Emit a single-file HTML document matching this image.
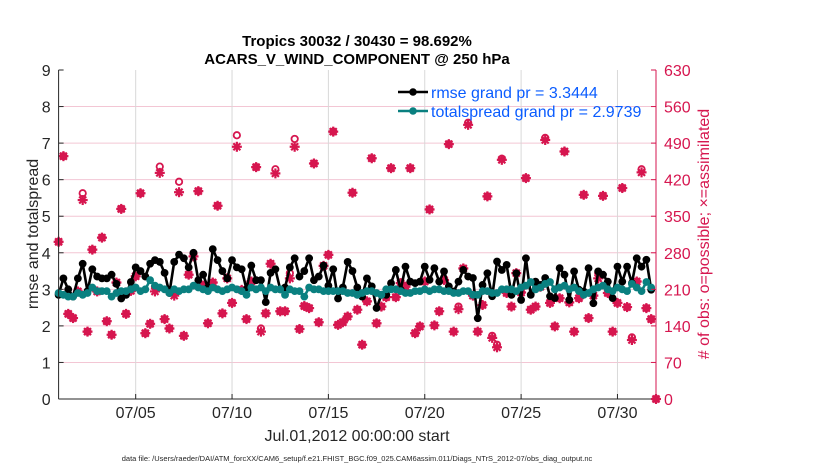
<!DOCTYPE html>
<html><head><meta charset="utf-8">
<style>
html,body{margin:0;padding:0;background:#fff;}
svg{display:block;font-family:"Liberation Sans",sans-serif;}
</style></head>
<body>
<svg id="chart" width="830" height="470" viewBox="0 0 830 470">
  <rect x="0" y="0" width="830" height="470" fill="#fff"/>
  <g id="grid"></g>
  <g id="marks"></g>
  <g id="axes"></g>
  <text x="357" y="46" text-anchor="middle" font-size="15" font-weight="bold">Tropics 30032 / 30430 = 98.692%</text>
  <text x="357" y="64" text-anchor="middle" font-size="15" font-weight="bold">ACARS_V_WIND_COMPONENT @ 250 hPa</text>
  <text x="357" y="441" text-anchor="middle" font-size="16" fill="#262626">Jul.01,2012 00:00:00 start</text>
  <text x="357" y="461" text-anchor="middle" font-size="7.5" fill="#262626">data file: /Users/raeder/DAI/ATM_forcXX/CAM6_setup/f.e21.FHIST_BGC.f09_025.CAM6assim.011/Diags_NTrS_2012-07/obs_diag_output.nc</text>
  <text transform="translate(38,234) rotate(-90)" text-anchor="middle" font-size="16" fill="#262626">rmse and totalspread</text>
  <text transform="translate(709,234) rotate(-90)" text-anchor="middle" font-size="16" fill="#d6164f"># of obs: o=possible; ×=assimilated</text>
  <g>
    <line x1="398" y1="92" x2="428" y2="92" stroke="#000" stroke-width="2.5"/>
    <circle cx="413" cy="92" r="3.8" fill="#000"/>
    <text x="431" y="98" font-size="16" fill="#0a5cff">rmse grand pr = 3.3444</text>
    <line x1="398" y1="111" x2="428" y2="111" stroke="#0a8080" stroke-width="2.5"/>
    <circle cx="413" cy="111" r="3.8" fill="#0a8080"/>
    <text x="431" y="117" font-size="16" fill="#0a5cff">totalspread grand pr = 2.9739</text>
  </g>
</svg>
<script>
const rmse=[2.85,3.3,3.0,2.8,3.3,3.7,2.95,3.55,3.35,3.3,3.3,3.4,3.15,2.75,2.85,3.2,3.6,3.5,3.35,3.7,3.8,3.75,3.45,2.9,3.75,3.95,3.85,3.6,4.0,3.25,3.4,3.05,4.1,3.8,3.5,3.3,3.8,3.6,3.55,3.0,3.65,3.25,3.25,2.65,3.45,3.55,3.0,3.05,3.6,3.85,3.35,3.5,3.85,3.25,3.35,3.65,3.1,3.55,2.75,3.05,3.75,3.5,3.05,2.8,3.3,
3.08,2.49,2.85,2.85,3.17,3.53,2.99,3.62,3.21,3.17,3.21,3.62,3.26,3.58,3.21,3.49,3.08,2.94,3.21,3.53,3.35,3.31,2.21,3.12,3.44,2.81,3.76,3.53,3.67,2.85,3.44,2.71,3.85,2.85,3.21,3.12,3.31,2.81,2.76,3.58,3.40,2.71,3.49,2.99,2.94,3.58,2.62,3.49,3.40,3.21,2.76,3.62,3.21,3.62,3.17,3.85,3.62,3.81,2.99];
const spread=[2.9,2.85,2.8,2.8,2.9,2.85,2.9,3.05,2.95,2.95,2.95,2.8,2.9,2.95,2.95,3.0,3.05,2.95,3.0,3.25,3.1,3.05,3.0,2.9,3.0,2.95,3.0,3.0,3.1,3.05,3.0,2.95,3.05,3.0,2.95,3.0,3.05,3.0,2.95,2.85,3.05,3.0,3.05,2.95,3.05,3.0,3.0,2.85,3.0,2.95,2.95,2.8,3.05,3.0,3.0,2.95,2.95,2.95,2.95,2.95,2.9,2.9,2.85,2.9,2.95,
2.95,2.9,2.85,3.0,3.0,3.0,2.95,2.9,2.9,2.95,2.95,3.0,2.95,3.0,3.0,2.95,2.95,2.9,2.9,2.95,2.95,2.85,2.85,2.95,2.95,2.9,2.9,3.0,3.0,3.0,2.95,3.05,3.1,3.2,3.0,3.05,3.15,3.2,3.0,3.05,3.1,3.0,3.05,2.95,2.85,2.9,3.0,3.05,3.1,3.0,2.95,3.05,3.0,2.95,3.15,3.05,2.95,3.2,3.05];
const assimilated=[301,465,163,155,206,381,129,286,206,309,149,123,223,364,163,207,235,394,126,144,206,433,153,135,198,396,121,238,273,398,217,145,223,370,164,231,184,483,209,153,225,444,129,164,259,432,168,168,231,483,134,178,174,451,147,255,276,512,142,147,158,395,171,104,187,
461,145,177,195,442,195,222,215,442,126,139,225,363,141,168,228,488,129,172,250,525,198,129,180,388,117,99,458,203,177,241,204,423,171,177,215,496,184,139,193,474,185,129,193,391,155,198,231,389,203,129,184,404,176,113,225,434,174,153,0];
const possible=[301,465,163,155,206,394,129,286,206,309,149,123,223,364,163,207,235,394,126,144,215,445,153,135,205,416,121,238,278,398,217,145,223,370,164,231,184,505,209,153,225,444,135,164,259,440,168,168,241,498,134,178,174,451,147,255,276,512,142,147,158,395,171,104,187,
461,145,177,195,442,195,222,215,442,126,139,225,363,141,168,228,488,129,177,250,529,198,129,180,388,121,104,460,203,177,241,204,423,171,177,215,500,184,139,193,474,185,129,193,391,155,198,241,389,203,129,184,404,176,118,225,440,174,153,0];
const dateTicks=[4,9,14,19,24,29];
const dateLabels=["07/05","07/10","07/15","07/20","07/25","07/30"];
const leftTicks=[0,1,2,3,4,5,6,7,8,9];
const rightTicks=[0,70,140,210,280,350,420,490,560,630];
const stepDays=0.25;

const X0=58.6,X1=656,Y0=399,Y1=70;
const xS=d=>X0+(X1-X0)*d/31;
const yL=v=>Y0-(Y0-Y1)*v/9;
const yR=v=>Y0-(Y0-Y1)*v/630;
const NS="http://www.w3.org/2000/svg";
function mk(tag,attrs,parent){const e=document.createElementNS(NS,tag);for(const k in attrs)e.setAttribute(k,attrs[k]);parent.appendChild(e);return e;}
const grid=document.getElementById('grid'),marks=document.getElementById('marks'),axes=document.getElementById('axes');
const RED="#d6164f",TEAL="#0a8080";

rightTicks.forEach((t,i)=>{ if(t===0||t===630)return;
  const l=mk('line',{x1:X0,x2:X1,y1:yR(t),y2:yR(t),stroke:"#f3c6d4","stroke-width":1},grid);
  
  
});
dateTicks.forEach(d=>{
  const l=mk('line',{x1:xS(d),x2:xS(d),y1:Y1,y2:Y0,stroke:"#d8d8d8","stroke-width":1},grid);
  
  
});

possible.forEach((v,i)=>{
  const c=mk('circle',{cx:xS(i*stepDays),cy:yR(v),r:3.2,fill:"none",stroke:RED,"stroke-width":1.8},marks);
  
  
});
assimilated.forEach((v,i)=>{
  const x=xS(i*stepDays),y=yR(v);
  const g=mk('g',{stroke:RED,"stroke-width":2.2},marks);
  
  
  mk('line',{x1:x-5,x2:x+5,y1:y,y2:y},g);
  mk('line',{x1:x,x2:x,y1:y-5,y2:y+5},g);
  mk('line',{x1:x-3.5,x2:x+3.5,y1:y-3.5,y2:y+3.5},g);
  mk('line',{x1:x-3.5,x2:x+3.5,y1:y+3.5,y2:y-3.5},g);
});

function series(arr,color,name){
  const pts=arr.map((v,i)=>xS(i*stepDays).toFixed(1)+","+yL(v).toFixed(1)).join(" ");
  const pl=mk('polyline',{points:pts,fill:"none",stroke:color,"stroke-width":2.6,"stroke-linejoin":"round"},marks);
  
  
  arr.forEach((v,i)=>{
    const c=mk('circle',{cx:xS(i*stepDays),cy:yL(v),r:3.9,fill:color},marks);
    
    
  });
}
series(rmse,"#000","rmse");
series(spread,TEAL,"totalspread");

const la=mk('line',{x1:X0,x2:X0,y1:Y1,y2:Y0,stroke:"#262626","stroke-width":1},axes);


const ba=mk('line',{x1:X0,x2:X1,y1:Y0,y2:Y0,stroke:"#262626","stroke-width":1},axes);


const ra=mk('line',{x1:X1,x2:X1,y1:Y1,y2:Y0,stroke:RED,"stroke-width":1},axes);


leftTicks.forEach(t=>{
  mk('line',{x1:X0,x2:X0+5,y1:yL(t),y2:yL(t),stroke:"#262626"},axes);
  const tx=mk('text',{x:X0-8,y:yL(t)+6,"text-anchor":"end","font-size":16,fill:"#262626"},axes);
  tx.textContent=t;
  
  
});
rightTicks.forEach(t=>{
  mk('line',{x1:X1-5,x2:X1,y1:yR(t),y2:yR(t),stroke:RED},axes);
  const tx=mk('text',{x:X1+8,y:yR(t)+6,"font-size":16,fill:RED},axes);
  tx.textContent=t;
  
  
});
dateTicks.forEach((d,i)=>{
  mk('line',{x1:xS(d),x2:xS(d),y1:Y0,y2:Y0-5,stroke:"#262626"},axes);
  const tx=mk('text',{x:xS(d),y:Y0+19,"text-anchor":"middle","font-size":16,fill:"#262626"},axes);
  tx.textContent=dateLabels[i];
  
  
});
</script>
</body></html>
